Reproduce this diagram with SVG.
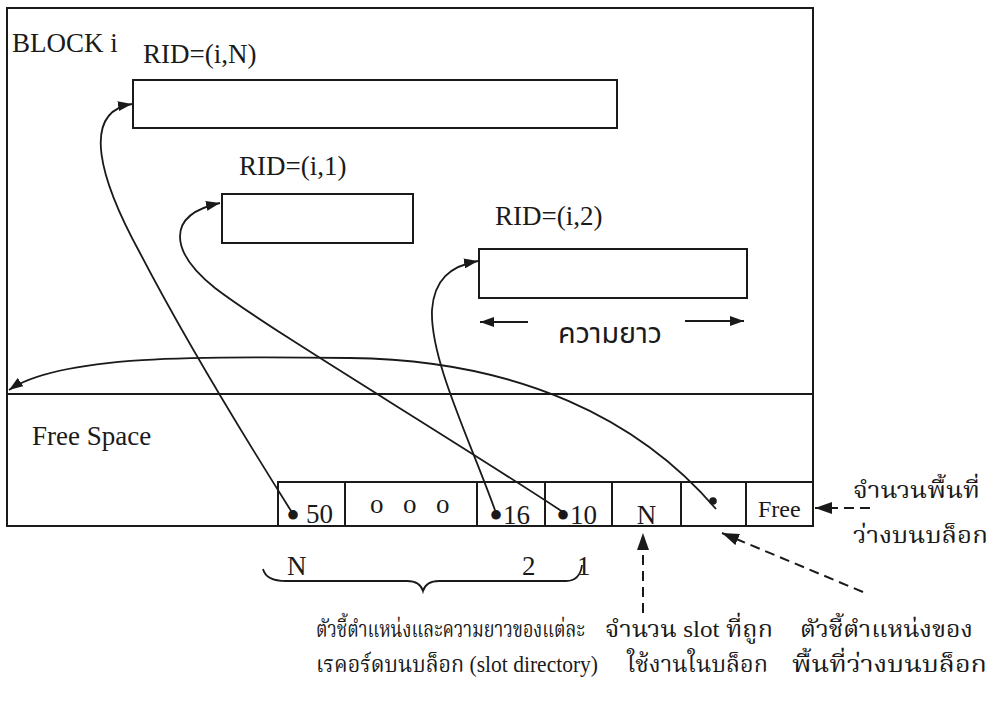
<svg xmlns="http://www.w3.org/2000/svg" width="988" height="705" viewBox="0 0 988 705">
<style>
.box{fill:none;stroke:#1a1a1a;stroke-width:2}
.ln{fill:none;stroke:#1a1a1a;stroke-width:1.8}
.ds{fill:none;stroke:#1a1a1a;stroke-width:2;stroke-dasharray:10 6}
.t{font-family:"Liberation Serif","Times New Roman",serif;font-size:27px;fill:#1a1a1a}
.bl{font-size:40px}
.th{font-family:"Liberation Serif","Norasi","Kinnari","Noto Serif Thai","Noto Sans Thai","Loma","Garuda",serif;font-size:23px;fill:#1a1a1a}
.ths{font-family:"Noto Sans Thai","Loma","Garuda","Noto Sans",sans-serif;font-size:28px;fill:#1a1a1a}
</style>
<defs>
<marker id="ah" markerUnits="userSpaceOnUse" markerWidth="14" markerHeight="10" refX="14" refY="5" orient="auto">
<path d="M0,0 L14,5 L0,10 z" fill="#1a1a1a"/>
</marker>
<marker id="ahb" markerUnits="userSpaceOnUse" markerWidth="18" markerHeight="12" refX="17" refY="6" orient="auto">
<path d="M0,0 L17,6 L0,12 z" fill="#1a1a1a"/>
</marker>
</defs>
<rect width="988" height="705" fill="#ffffff"/>

<g id="block">
<rect class="box" x="7" y="8" width="806" height="518"/>
<line class="box" x1="7" y1="394" x2="813" y2="394"/>
<text class="t" x="12" y="52">BLOCK i</text>
<text class="t" x="32" y="445">Free Space</text>
</g>

<g id="record-N">
<rect class="box" x="133" y="80" width="484" height="48"/>
<text class="t" x="143" y="63">RID=(i,N)</text>
</g>
<g id="record-1">
<rect class="box" x="222" y="194" width="191" height="49"/>
<text class="t" x="239" y="175">RID=(i,1)</text>
</g>
<g id="record-2">
<rect class="box" x="479" y="249" width="268" height="49"/>
<text class="t" x="495" y="225">RID=(i,2)</text>
<text class="ths" x="558" y="343" textLength="104" lengthAdjust="spacingAndGlyphs">ความยาว</text>
</g>

<g id="slot-directory">
<rect class="box" x="278" y="482" width="535" height="44"/>
<line class="box" x1="345" y1="482" x2="345" y2="526"/>
<line class="box" x1="477" y1="482" x2="477" y2="526"/>
<line class="box" x1="545" y1="482" x2="545" y2="526"/>
<line class="box" x1="612" y1="482" x2="612" y2="526"/>
<line class="box" x1="681" y1="482" x2="681" y2="526"/>
<line class="box" x1="746" y1="482" x2="746" y2="526"/>
<text class="t"><tspan class="bl" x="286" y="529">•</tspan><tspan x="306" y="523">50</tspan></text>
<text class="t" y="513" x="370 386 403 419 436">o o o</text>
<text class="t"><tspan class="bl" x="489" y="529">•</tspan><tspan x="503" y="524">16</tspan></text>
<text class="t"><tspan class="bl" x="556" y="529">•</tspan><tspan x="570" y="524">10</tspan></text>
<text class="t" x="646.5" y="524" text-anchor="middle">N</text>
<circle cx="713" cy="501" r="3.8" fill="#1a1a1a"/>
<text class="t" x="758" y="517" style="font-size:24px">Free</text>
</g>

<g id="brace">
<path class="ln" d="M263,569 Q266,581 286,581 L407,581 Q420,581 423,591 Q426,581 439,581 L566,581 Q580,581 582,565"/>
<text class="t" x="287" y="575">N</text>
<text class="t" x="522" y="575">2</text>
<text class="t" x="577" y="575">1</text>
</g>

<g id="labels">
<text class="th" x="853" y="498" textLength="127" lengthAdjust="spacingAndGlyphs">จำนวนพื้นที่</text>
<text class="th" x="853" y="543" textLength="135" lengthAdjust="spacingAndGlyphs">ว่างบนบล็อก</text>
<text class="th" x="316" y="637" textLength="269" lengthAdjust="spacingAndGlyphs">ตัวชี้ตำแหน่งและความยาวของแต่ละ</text>
<text class="th" x="316" y="672" textLength="282" lengthAdjust="spacingAndGlyphs">เรคอร์ดบนบล็อก  (slot directory)</text>
<text class="th" x="605" y="637" textLength="168" lengthAdjust="spacingAndGlyphs">จำนวน slot ที่ถูก</text>
<text class="th" x="627" y="672" textLength="141" lengthAdjust="spacingAndGlyphs">ใช้งานในบล็อก</text>
<text class="th" x="800" y="637" textLength="173" lengthAdjust="spacingAndGlyphs">ตัวชี้ตำแหน่งของ</text>
<text class="th" x="792" y="672" textLength="195" lengthAdjust="spacingAndGlyphs">พื้นที่ว่างบนบล็อก</text>
</g>

<g id="connectors">
<path class="ln" marker-end="url(#ah)" d="M293,514 C240,430 180,330 140,253 C100,180 80,112 132,104"/>
<path class="ln" marker-end="url(#ah)" d="M563,512 C430,425 270,330 215,288 C170,252 165,215 220,203"/>
<path class="ln" marker-end="url(#ah)" d="M496,513 C470,440 430,360 432,310 C434,280 450,266 478,261"/>
<path class="ln" marker-end="url(#ah)" d="M716,509 C640,420 520,360 350,358 C200,356 60,355 9,390"/>
<line class="box" marker-end="url(#ah)" x1="528" y1="322" x2="480" y2="322"/>
<line class="box" marker-end="url(#ah)" x1="685" y1="321" x2="744" y2="321"/>
<line class="ds" marker-end="url(#ahb)" x1="870" y1="508" x2="815" y2="508"/>
<line class="ds" marker-end="url(#ahb)" x1="643" y1="613" x2="643" y2="533"/>
<line class="ds" marker-end="url(#ahb)" x1="863" y1="592" x2="722" y2="533"/>
</g>
</svg>
